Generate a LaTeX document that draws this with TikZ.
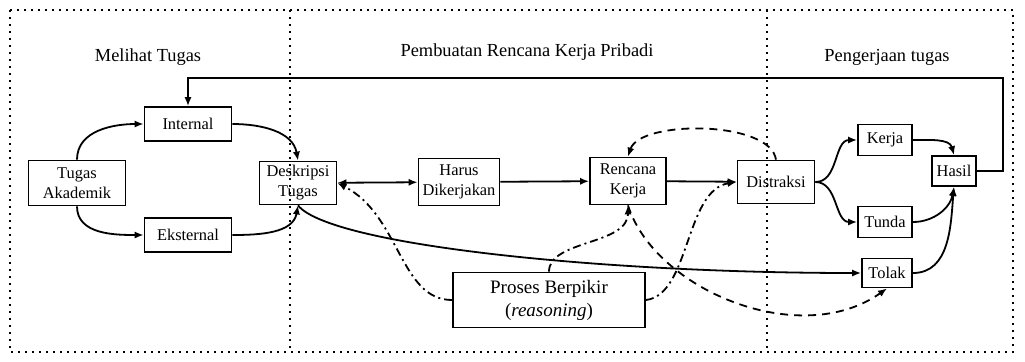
\documentclass[tikz,border=0pt]{standalone}
\usepackage{fontspec}
\setmainfont{Liberation Serif}
\usetikzlibrary{arrows.meta}
\tikzset{
  box/.style    ={draw,line width=0.9pt,inner sep=1pt,align=center,font=\fontsize{8.2}{10}\selectfont},
  bigbox/.style ={box,font=\fontsize{9.5}{11.5}\selectfont},
  title/.style  ={font=\fontsize{9.2}{11}\selectfont},
  arr/.style    ={line width=0.9pt,->},
  dashdot/.style={line width=0.9pt,dash pattern=on 4pt off 2pt on 1pt off 2pt},
  dsh/.style    ={line width=0.9pt,dash pattern=on 4pt off 3pt},
  frame/.style  ={line width=1.1pt,dash pattern=on 1pt off 2.5pt},
}

\begin{document}
\begin{tikzpicture}[x=0.5pt,y=-0.5pt,>={Latex[length=4.5pt,width=3.6pt]}]
  \useasboundingbox (0,0) rectangle (1025,361);
  % frame and the three parts
  \draw[frame] (10,10) rectangle (1013,352);
  \draw[frame] (290,10) -- (290,352);
  \draw[frame] (767,10) -- (767,352);
  \node[title] (tLihat)  at (148,57) {Melihat Tugas};
  \node[title] (tRencana) at (527,52) {Pembuatan Rencana Kerja Pribadi};
  \node[title] (tKerja)  at (887,57) {Pengerjaan tugas};

  \node[box,minimum width=48.5pt,minimum height=22.5pt] (tugas)     at (77,183)  {Tugas\\Akademik};
  \node[box,minimum width=43.5pt,minimum height=17pt]   (internal)  at (188,124) {Internal};
  \node[box,minimum width=43.5pt,minimum height=17pt]   (eksternal) at (188,235) {Eksternal};
  \node[box,minimum width=38.5pt,minimum height=21.5pt] (deskripsi) at (298,183) {Deskripsi\\Tugas};
  \node[box,minimum width=40.5pt,minimum height=23.5pt] (harus)     at (459,182) {Harus\\Dikerjakan};
  \node[box,minimum width=38pt,minimum height=23.5pt]   (rencana)   at (628,181) {Rencana\\Kerja};
  \node[box,minimum width=38.5pt,minimum height=21.5pt] (distraksi) at (776,182) {Distraksi};
  \node[box,minimum width=27pt,minimum height=15.5pt]   (kerja)     at (885,140) {Kerja};
  \node[box,minimum width=27pt,minimum height=15.5pt]   (tunda)     at (885,222) {Tunda};
  \node[box,minimum width=25pt,minimum height=14.5pt]   (tolak)     at (887,273) {Tolak};
  \node[box,minimum width=22pt,minimum height=15pt]     (hasil)     at (954,171) {Hasil};
  \node[bigbox,minimum width=96pt,minimum height=27.5pt] (proses)   at (549,300) {Proses Berpikir\\(\textit{reasoning})};

  \draw[arr] (tugas.north) to[out=90,in=180] (internal.west);
  \draw[arr] (tugas.south) to[out=-90,in=180] (eksternal.west);
  \draw[arr] (internal.east) to[out=0,in=100] (deskripsi.north);
  \draw[arr] (eksternal.east) to[out=0,in=-100] (deskripsi.south);
  \draw[line width=0.9pt,<->] (deskripsi) -- (harus);
  \foreach \a/\b in {harus/rencana,rencana/distraksi}
     \draw[arr] (\a) -- (\b);
  \foreach \b in {kerja,tunda}
     \draw[arr] (distraksi.east) to[out=0,in=180] (\b.west);
  \draw[arr] (kerja.east) to[out=0,in=105] (hasil.north);
  \draw[arr] (tunda.east) to[out=0,in=-100] (hasil.south);
  \draw[arr] (tolak.east) to[out=0,in=-95] (hasil.south);
  \coordinate (balik) at (1003,78);
  \draw[arr] (hasil.east) -| (balik) -| (internal.north); % back to the start
  \draw[arr] (deskripsi.south) .. controls (330,245) and (600,273) .. (tolak.west);

  % reasoning
  \draw[dashdot,->] (proses.west) .. controls (400,300) and (400,215) .. (deskripsi.east);
  \draw[dashdot,->] (proses.north) .. controls (549,240) and (628,245) .. (rencana.south);
  \draw[dashdot,->] (proses.east) .. controls (690,295) and (685,190) .. (distraksi.west);
  \draw[dsh,->] (rencana.south) .. controls (655,290) and (800,350) .. (tolak.south);
  \draw[dsh,->] (distraksi.north) .. controls (770,120) and (640,120) .. (rencana.north);
\end{tikzpicture}
\end{document}
